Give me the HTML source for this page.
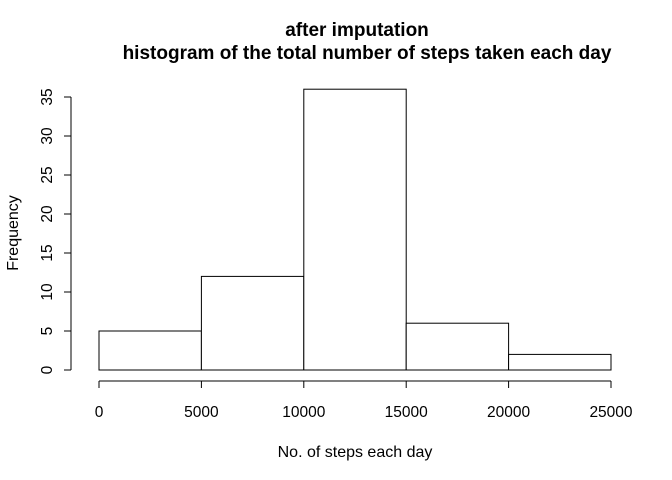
<!DOCTYPE html>
<html><head><meta charset="utf-8"><style>
body{margin:0;background:#fff}
svg{display:block;font-family:"Liberation Sans",Arial,sans-serif}
</style></head><body>
<svg id="chart" width="672" height="480">
<text x="357" y="36" text-anchor="middle" font-size="19" font-weight="bold">after imputation</text>
<text x="367" y="59" text-anchor="middle" font-size="19" font-weight="bold">histogram of the total number of steps taken each day</text>
<text x="355" y="457" text-anchor="middle" font-size="16">No. of steps each day</text>
<text transform="translate(18,233) rotate(-90)" text-anchor="middle" font-size="16">Frequency</text>
<g id="bars"></g><g id="xaxis"></g><g id="yaxis"></g>
</svg>
<script>
const binEdges=[0,5000,10000,15000,20000,25000];
const counts=[5,12,36,6,2];
const xTicks=[0,5000,10000,15000,20000,25000];
const yTicks=[0,5,10,15,20,25,30,35];
const NS="http://www.w3.org/2000/svg";
const x=v=>99+v*(512/25000);
const y=v=>370-v*7.8;
function mk(t,a,p){const e=document.createElementNS(NS,t);for(const k in a)e.setAttribute(k,a[k]);p.appendChild(e);return e;}
const bars=document.getElementById('bars');
counts.forEach((c,i)=>{
 const r=mk('rect',{x:x(binEdges[i]),y:y(c),width:x(binEdges[i+1])-x(binEdges[i]),height:y(0)-y(c),fill:'#fff',stroke:'#000','stroke-width':1},bars);
 
 
});
const xa=document.getElementById('xaxis');


mk('line',{x1:x(xTicks[0]),x2:x(xTicks[xTicks.length-1]),y1:381,y2:381,stroke:'#000'},xa);
xTicks.forEach(t=>{
 mk('line',{x1:x(t),x2:x(t),y1:381,y2:388,stroke:'#000'},xa);
 const tx=mk('text',{x:x(t),y:417,'text-anchor':'middle','font-size':15.5},xa);tx.textContent=t;
 
 
});
const ya=document.getElementById('yaxis');


mk('line',{x1:71,x2:71,y1:y(yTicks[0]),y2:y(yTicks[yTicks.length-1]),stroke:'#000'},ya);
yTicks.forEach(t=>{
 mk('line',{x1:64,x2:71,y1:y(t),y2:y(t),stroke:'#000'},ya);
 const tx=mk('text',{transform:`translate(52,${y(t)}) rotate(-90)`,'text-anchor':'middle','font-size':15.5},ya);tx.textContent=t;
 
 
});
</script>
</body></html>
